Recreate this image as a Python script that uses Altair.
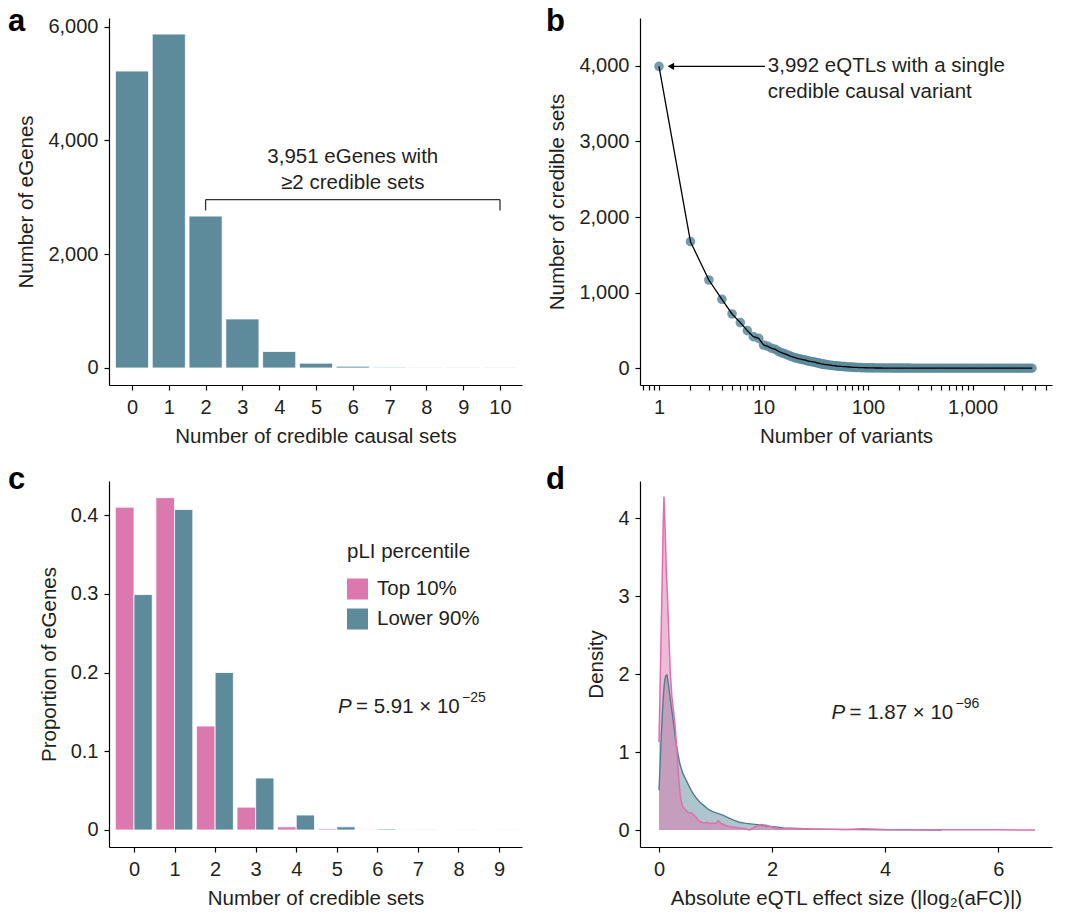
import altair as alt
import pandas as pd

FONT = "Liberation Sans"
TEAL = "#5d8b9b"
PINK = "#db78ae"
TXT = "#231f20"

# ---------------- data ----------------
# Panel a
a_sets = [0, 1, 2, 3, 4, 5, 6, 7, 8, 9, 10]
a_genes = [5220, 5870, 2670, 862, 290, 85, 32, 12, 8, 4, 3]

# Panel b
b_variants = [1, 2, 3, 4, 5, 6, 7, 8, 9, 10,
              11, 12, 13, 14, 15, 16, 17, 18, 19, 20,
              21, 22, 23, 24, 25, 26, 27, 28, 29, 30,
              31, 32, 33, 34, 35, 36, 37, 38, 39, 40,
              42, 44, 46, 48, 50, 52, 54, 56, 58, 60,
              63, 66, 69, 72, 75, 78, 82, 86, 90, 95,
              100, 106, 112, 118, 125, 132, 140, 148, 157, 166,
              176, 186, 197, 209, 221, 234, 248, 263, 278, 295,
              312, 331, 350, 371, 393, 416, 441, 467, 495, 524,
              555, 588, 623, 660, 699, 741, 785, 831, 880, 932,
              987, 1046, 1108, 1173, 1243, 1317, 1395, 1478, 1565, 1658,
              1757, 1861, 1971, 2088, 2212, 2343, 2482, 2629, 2785, 2950,
              3125, 3310, 3500, 3700]
b_sets = [3992, 1674, 1167, 912, 718, 604, 498, 418, 396, 308,
          290, 264, 250, 222, 205, 190, 176, 162, 150, 140,
          132, 124, 120, 112, 110, 100, 96, 90, 88, 84,
          80, 76, 70, 68, 62, 58, 56, 52, 50, 48,
          44, 40, 36, 34, 30, 28, 26, 24, 23, 22,
          19, 17, 15, 13, 12, 11, 10, 9, 8, 7,
          6, 5, 5, 4, 4, 4, 3, 3, 3, 3,
          2, 2, 2, 2, 2, 2, 2, 1, 1, 1,
          1, 1, 1, 1, 1, 1, 1, 1, 1, 1,
          1, 1, 1, 1, 1, 1, 1, 1, 1, 1,
          1, 1, 1, 1, 1, 1, 1, 1, 1, 1,
          1, 1, 1, 1, 1, 1, 1, 1, 1, 1,
          1, 1, 1, 1]

# Panel c
c_sets = [0, 1, 2, 3, 4, 5, 6, 7, 8, 9]
c_top10 = [0.410, 0.422, 0.132, 0.029, 0.004, 0.0015, 0.0005, 0.0002, 0.0001, 0.0001]
c_lower90 = [0.299, 0.407, 0.200, 0.066, 0.019, 0.004, 0.0013, 0.0005, 0.0003, 0.0002]
c_groups = ["Top 10%", "Lower 90%"]

# Panel d
d_top_x = [0, 0.02, 0.04, 0.06, 0.075, 0.088, 0.1, 0.115, 0.13, 0.15, 0.177,
           0.2, 0.23, 0.26, 0.29, 0.32, 0.35, 0.38, 0.42, 0.48, 0.52,
           0.57, 0.6, 0.65, 0.7, 0.75, 0.8, 0.85, 0.9, 0.95, 1.0,
           1.05, 1.1, 1.15, 1.2, 1.3, 1.4, 1.5, 1.6, 1.7, 1.8,
           1.9, 2.0, 2.1, 2.3, 2.5, 2.7, 3.0, 3.3, 3.6, 4.0,
           4.5, 5.0, 5.5, 6.0, 6.65]
d_top_y = [1.13, 1.85, 2.6, 3.35, 3.95, 4.28, 4.05, 3.7, 3.3, 3.0, 2.45,
           2.0, 1.7, 1.5, 1.3, 0.95, 0.65, 0.42, 0.3, 0.25, 0.22,
           0.22, 0.2, 0.17, 0.12, 0.1, 0.09, 0.1, 0.08, 0.09, 0.08,
           0.12, 0.08, 0.07, 0.05, 0.04, 0.03, 0.02, 0.0, 0.04, 0.07,
           0.06, 0.04, 0.01, 0.02, 0.02, 0.01, 0.01, 0.008, 0.015, 0.005,
           0.004, 0.003, 0.002, 0.002, 0.0]
d_low_x = [0, 0.02, 0.04, 0.06, 0.08, 0.1, 0.12, 0.14, 0.17, 0.2,
           0.25, 0.3, 0.365, 0.42, 0.48, 0.54, 0.6, 0.66, 0.72, 0.8,
           0.88, 0.95, 1.05, 1.13, 1.22, 1.31, 1.42, 1.54, 1.66, 1.78,
           1.9, 2.07, 2.2, 2.4, 2.6, 2.8, 3.0, 3.5, 4.0, 4.5, 5.0]
d_low_y = [0.51, 0.85, 1.2, 1.5, 1.75, 1.92, 1.98, 1.99, 1.85, 1.68,
           1.41, 1.12, 0.86, 0.73, 0.64, 0.55, 0.47, 0.41, 0.36, 0.31,
           0.26, 0.235, 0.21, 0.19, 0.16, 0.13, 0.1, 0.085, 0.075, 0.064,
           0.05, 0.04, 0.025, 0.02, 0.015, 0.012, 0.008, 0.005, 0.003, 0.002, 0.001]

# ---------------- helpers ----------------
TICK_FS = 20
TITLE_FS = 20.5


def axis(values, title, label_expr, **kw):
    args = dict(values=values, title=title, grid=False, domainColor="black",
                domainWidth=1.2, tickColor="black", tickWidth=1.2, tickSize=5,
                labelFont=FONT, labelFontSize=TICK_FS, labelColor=TXT,
                titleFont=FONT, titleFontSize=TITLE_FS, titleColor=TXT,
                titleFontWeight="normal", labelOverlap=False, labelFlush=False,
                labelExpr=label_expr)
    args.update(kw)
    return alt.Axis(**args)


def xaxis(values, title, label_expr="format(datum.value, ',')"):
    return axis(values, title, label_expr, labelPadding=7, titlePadding=9)


def yaxis(values, title, label_expr="format(datum.value, ',')"):
    return axis(values, title, label_expr, labelPadding=6, titlePadding=11)


def letter(ch, x, y):
    return alt.Chart(pd.DataFrame({"t": [ch]})).mark_text(
        align="left", baseline="alphabetic", font=FONT, fontSize=31,
        fontWeight="bold", color="black", x=x, y=y
    ).encode(text="t:N")


def ptext(px, py, main, exponent, sup_dx):
    d = pd.DataFrame({"x": [px], "y": [py]})
    base = alt.Chart(d)
    p = base.mark_text(align="left", baseline="middle", font=FONT, fontSize=TITLE_FS,
                       fontStyle="italic", color=TXT, text="P").encode(x="x:Q", y="y:Q")
    rest = base.mark_text(align="left", baseline="middle", font=FONT, fontSize=TITLE_FS,
                          color=TXT, text=main, dx=18).encode(x="x:Q", y="y:Q")
    sup = base.mark_text(align="left", baseline="middle", font=FONT, fontSize=14,
                         color=TXT, text=exponent, dx=sup_dx, dy=-9).encode(x="x:Q", y="y:Q")
    return [p, rest, sup]


# ---------------- panel a ----------------
df_a = pd.DataFrame({"n": a_sets, "count": a_genes})
xa = alt.Scale(domain=[-0.625, 10.598], nice=False, zero=False)
ya = alt.Scale(domain=[-299, 6153], nice=False, zero=False)

bars_a = alt.Chart(df_a).transform_calculate(
    x1="datum.n - 0.45", x2="datum.n + 0.45"
).mark_bar(color=TEAL, stroke="white", strokeWidth=0.8).encode(
    x=alt.X("x1:Q", scale=xa, axis=xaxis(list(range(11)), "Number of credible causal sets")),
    x2="x2:Q",
    y=alt.Y("count:Q", scale=ya, axis=yaxis([0, 2000, 4000, 6000], "Number of eGenes")),
    y2=alt.datum(0),
)

bracket = pd.DataFrame({"x": [2, 2, 10], "x2": [10, 2, 10],
                        "y": [2960, 2960, 2960], "y2": [2960, 2770, 2770]})
rules_a = alt.Chart(bracket).mark_rule(color="#333333", strokeWidth=1.3).encode(
    x="x:Q", x2="x2:Q", y="y:Q", y2="y2:Q")
text_a = alt.Chart(pd.DataFrame({"x": [6.0, 6.0], "y": [3710, 3250],
                                 "t": ["3,951 eGenes with", "≥2 credible sets"]})).mark_text(
    align="center", baseline="middle", font=FONT, fontSize=TITLE_FS, color=TXT
).encode(x="x:Q", y="y:Q", text="t:N")

panel_a = alt.layer(bars_a, rules_a, text_a, letter("a", -101, 13)).properties(width=413, height=367)

# ---------------- panel b ----------------
df_b = pd.DataFrame({"v": b_variants, "s": b_sets})
xb = alt.Scale(type="log", domain=[0.658, 5756], nice=False)
yb = alt.Scale(domain=[-221, 4631], nice=False, zero=False)
b_ticks = [0.7, 0.8, 0.9] + [m * 10 ** k for k in range(4) for m in range(1, 10) if m * 10 ** k <= 5000]
lab_expr = ("(datum.value == 1 || datum.value == 10 || datum.value == 100 || datum.value == 1000)"
            " ? format(datum.value, ',') : ''")

pts_b = alt.Chart(df_b).mark_circle(size=92, color=TEAL, opacity=0.85).encode(
    x=alt.X("v:Q", scale=xb, axis=xaxis(b_ticks, "Number of variants", label_expr=lab_expr)),
    y=alt.Y("s:Q", scale=yb, axis=yaxis([0, 1000, 2000, 3000, 4000], "Number of credible sets")),
)
line_b = alt.Chart(df_b).mark_line(color="black", strokeWidth=1.3).encode(x="v:Q", y="s:Q")
arrow_line = alt.Chart(pd.DataFrame({"x": [1.25], "x2": [10.3], "y": [3992]})).mark_rule(
    color="black", strokeWidth=1.2).encode(x="x:Q", x2="x2:Q", y="y:Q")
arrow_head = alt.Chart(pd.DataFrame({"x": [1.3], "y": [3992]})).mark_point(
    shape="triangle-left", filled=True, size=55, color="black", opacity=1).encode(x="x:Q", y="y:Q")
text_b = alt.Chart(pd.DataFrame({"x": [11.0, 11.0], "y": [3995, 3652],
                                 "t": ["3,992 eQTLs with a single", "credible causal variant"]})).mark_text(
    align="left", baseline="middle", font=FONT, fontSize=TITLE_FS, color=TXT
).encode(x="x:Q", y="y:Q", text="t:N")

panel_b = alt.layer(pts_b, line_b, arrow_line, arrow_head, text_b, letter("b", -94, 13)).properties(
    width=412, height=367)

# ---------------- panel c ----------------
rows = []
for n, t, l in zip(c_sets, c_top10, c_lower90):
    rows.append({"n": n, "group": c_groups[0], "p": t})
    rows.append({"n": n, "group": c_groups[1], "p": l})
df_c = pd.DataFrame(rows)
xc = alt.Scale(domain=[-0.616, 9.566], nice=False, zero=False)
yc = alt.Scale(domain=[-0.0216, 0.4432], nice=False, zero=False)

# legend offsets are measured from the top-left plot area of the whole grid
bars_c = alt.Chart(df_c).transform_calculate(
    x1="datum.group == 'Top 10%' ? datum.n - 0.46 : datum.n",
    x2="datum.group == 'Top 10%' ? datum.n : datum.n + 0.45",
).mark_bar(stroke="white", strokeWidth=0.8).encode(
    x=alt.X("x1:Q", scale=xc, axis=xaxis(list(range(10)), "Number of credible sets")),
    x2="x2:Q",
    y=alt.Y("p:Q", scale=yc, axis=yaxis([0, 0.1, 0.2, 0.3, 0.4], "Proportion of eGenes",
                                        label_expr="datum.value == 0 ? '0' : format(datum.value, '.1f')")),
    y2=alt.datum(0),
    color=alt.Color("group:N", scale=alt.Scale(domain=c_groups, range=[PINK, TEAL]),
                    legend=alt.Legend(title="pLI percentile", orient="none", legendX=238, legendY=524,
                                      symbolType="square", symbolSize=441, symbolStrokeWidth=0,
                                      symbolOpacity=1,
                                      titleFont=FONT, titleFontSize=TITLE_FS, titleFontWeight="normal",
                                      titleColor=TXT, labelFont=FONT, labelFontSize=TITLE_FS,
                                      labelColor=TXT, titlePadding=16, rowPadding=9, labelOffset=9)),
)
panel_c = alt.layer(bars_c, *ptext(5.03, 0.1566, "= 5.91 × 10", "−25", 124),
                    letter("c", -101, 8)).properties(width=413, height=366)

# ---------------- panel d ----------------
df_dt = pd.DataFrame({"x": d_top_x, "y": d_top_y})
df_dl = pd.DataFrame({"x": d_low_x, "y": d_low_y})
xd = alt.Scale(domain=[-0.336, 6.95], nice=False, zero=False)
yd = alt.Scale(domain=[-0.218, 4.479], nice=False, zero=False)

area_low = alt.Chart(df_dl).mark_area(color=TEAL, opacity=0.5).encode(
    x=alt.X("x:Q", scale=xd, axis=xaxis([0, 2, 4, 6], "Absolute eQTL effect size (|log₂(aFC)|)",
                                        label_expr="format(datum.value, 'd')")),
    y=alt.Y("y:Q", scale=yd, axis=yaxis([0, 1, 2, 3, 4], "Density", label_expr="format(datum.value, 'd')")),
    y2=alt.datum(0),
)
area_top = alt.Chart(df_dt).mark_area(color=PINK, opacity=0.5).encode(
    x="x:Q", y="y:Q", y2=alt.datum(0))
line_low = alt.Chart(df_dl).mark_line(color="#4f8090", strokeWidth=1.4).encode(x="x:Q", y="y:Q")
line_top = alt.Chart(df_dt).mark_line(color="#e06fae", strokeWidth=1.5).encode(x="x:Q", y="y:Q")

panel_d = alt.layer(area_low, area_top, line_low, line_top,
                    *ptext(3.05, 1.5, "= 1.87 × 10", "−96", 124),
                    letter("d", -94, 8)).properties(width=412, height=366)

chart = alt.concat(panel_a, panel_b, panel_c, panel_d, columns=2,
                   spacing={"row": 96, "column": 118}, bounds="flush").properties(
    padding={"left": 0, "top": -2, "right": 5, "bottom": 5}
).configure(font=FONT, view=alt.ViewConfig(stroke=None))

chart.save("out.html", embed_options={"renderer": "svg", "actions": False})
